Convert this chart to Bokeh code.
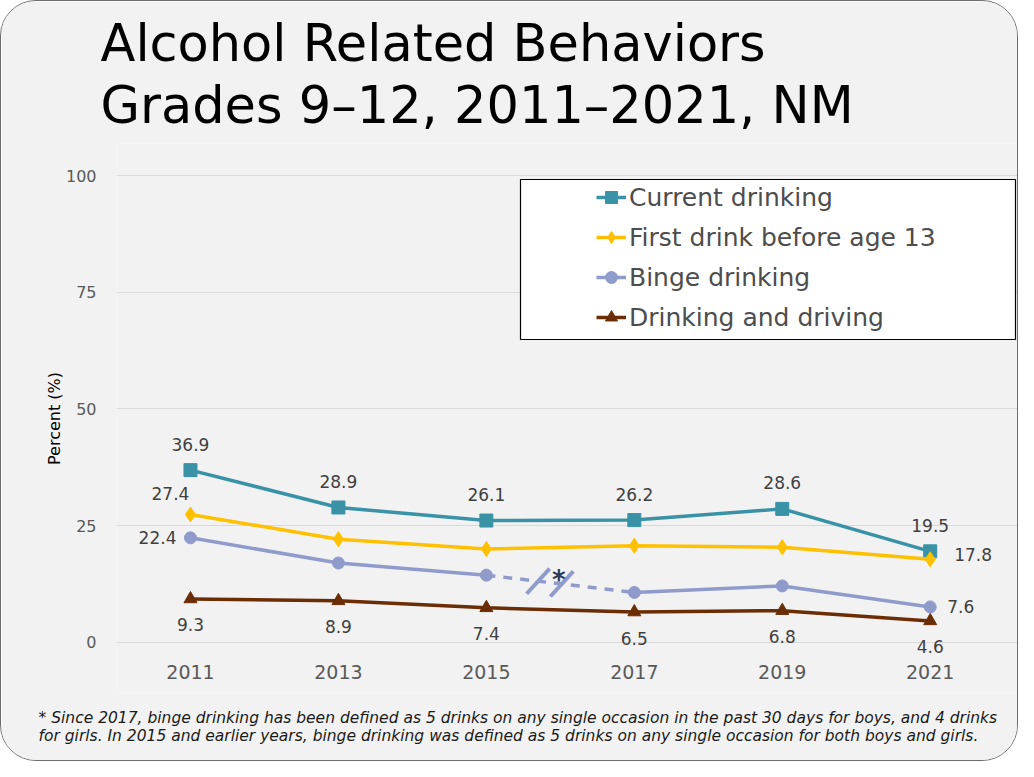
from bokeh.plotting import figure
from bokeh.models import (Range1d, FixedTicker, ColumnDataSource, LabelSet, Label,
                          Legend, LegendItem, BoxAnnotation, Title)
from bokeh.core.properties import value
from bokeh.embed import file_html
from bokeh.resources import INLINE

# ---------------- data ----------------
years = [2011, 2013, 2015, 2017, 2019, 2021]
current_drinking = [36.9, 28.9, 26.1, 26.2, 28.6, 19.5]
first_drink_before_13 = [27.4, 22.1, 20.0, 20.7, 20.4, 17.8]
binge_drinking = [22.4, 17.0, 14.4, 10.7, 12.1, 7.6]
drinking_and_driving = [9.3, 8.9, 7.4, 6.5, 6.8, 4.6]
y_ticks = [0, 25, 50, 75, 100]
series_names = ["Current drinking", "First drink before age 13",
                "Binge drinking", "Drinking and driving"]
title_lines = ["Alcohol Related Behaviors", "Grades 9–12, 2011–2021, NM"]
y_axis_label = "Percent (%)"
footnote_lines = [
    "* Since 2017, binge drinking has been defined as 5 drinks on any single occasion in the past 30 days for boys, and 4 drinks",
    "for girls. In 2015 and earlier years, binge drinking was defined as 5 drinks on any single occasion for both boys and girls.",
]

# ---------------- style ----------------
C_CUR = "#3a92a7"
C_FIRST = "#ffc000"
C_BINGE = "#8f9bcb"
C_DRIVE = "#6b2d05"
BG = "#f2f2f2"
FONT = "DejaVu Sans"
LABEL_COLOR = "#404040"
TICK_COLOR = "#595959"

W, H = 1018, 761
p = figure(width=W, height=H, output_backend="svg", toolbar_location=None,
           x_range=Range1d(2010, 2022.18), y_range=Range1d(-10.95, 106.87),
           min_border_left=115, min_border_right=2, min_border_top=142,
           min_border_bottom=69)
p.background_fill_color = BG
p.border_fill_color = BG
p.outline_line_color = None
p.styles = {"border": "1.5px solid #6e6e6e", "border-radius": "36px",
            "overflow": "hidden", "box-sizing": "border-box"}

# axes
p.xaxis.ticker = FixedTicker(ticks=years)
p.yaxis.ticker = FixedTicker(ticks=y_ticks)
for ax in (p.xaxis[0], p.yaxis[0]):
    ax.axis_line_color = None
    ax.major_tick_line_color = None
    ax.minor_tick_line_color = None
    ax.major_label_text_font = FONT
    ax.major_label_text_color = TICK_COLOR
p.xaxis.major_label_text_font_size = "19px"
p.xaxis.major_label_standoff = -35
p.yaxis.major_label_text_font_size = "16px"
p.yaxis.major_label_standoff = 14
p.yaxis.axis_label = y_axis_label
p.yaxis.axis_label_text_font = FONT
p.yaxis.axis_label_text_font_size = "16px"
p.yaxis.axis_label_text_font_style = "normal"
p.yaxis.axis_label_text_color = "#000000"
p.yaxis.axis_label_standoff = -1
p.xgrid.grid_line_color = None
p.ygrid.grid_line_color = "#d9d9d9"
p.ygrid.grid_line_width = 1.2

# series
LW = 3.5
r_cur_l = p.line(years, current_drinking, line_color=C_CUR, line_width=LW)
r_cur_m = p.scatter(years, current_drinking, marker="square", size=13, color=C_CUR)

r_fst_l = p.line(years, first_drink_before_13, line_color=C_FIRST, line_width=LW)
r_fst_m = p.scatter(years, first_drink_before_13, marker="diamond", size=15, color=C_FIRST)

r_bng_l = p.line(years[:3], binge_drinking[:3], line_color=C_BINGE, line_width=LW)
p.line(years[3:], binge_drinking[3:], line_color=C_BINGE, line_width=LW)
p.line(years[2:4], binge_drinking[2:4], line_color=C_BINGE, line_width=LW, line_dash="9 8")
r_bng_m = p.scatter(years, binge_drinking, marker="circle", size=12, color=C_BINGE)

r_drv_l = p.line(years, drinking_and_driving, line_color=C_DRIVE, line_width=LW)
r_drv_m = p.scatter(years, drinking_and_driving, marker="triangle", size=13, color=C_DRIVE)

# break marks on the dashed binge segment (definition change)
def along(frac):
    x0, x1 = years[2], years[3]
    y0, y1 = binge_drinking[2], binge_drinking[3]
    return x0 + frac * (x1 - x0), y0 + frac * (y1 - y0)

bx, by = zip(*[along(0.35), along(0.51)])
p.scatter(list(bx), list(by), marker="dash", size=34, angle=0.83,
          line_color=C_BINGE, line_width=4)
sx, sy = along(0.49)
p.add_layout(Label(x=sx, y=sy, text="*", text_font=FONT, text_font_size="26px",
                   text_font_style="bold", text_color="#2e3a5c", text_align="center",
                   text_baseline="middle", y_offset=4))

# data labels
def add_labels(xs, ys, align, dx, dy):
    src = ColumnDataSource(dict(x=xs, y=ys, t=[f"{v:.1f}" for v in ys]))
    p.add_layout(LabelSet(x="x", y="y", text="t", source=src, x_offset=dx, y_offset=dy,
                          text_align=align, text_baseline="middle",
                          text_font=value(FONT), text_font_size=value("17px"),
                          text_color=LABEL_COLOR))

add_labels(years, current_drinking, "center", 0, 26)
add_labels(years, drinking_and_driving, "center", 0, -26)
add_labels(years[:1], first_drink_before_13[:1], "center", -20, 21)
add_labels(years[-1:], first_drink_before_13[-1:], "left", 24, 5)
add_labels(years[:1], binge_drinking[:1], "right", -14, 0)
add_labels(years[-1:], binge_drinking[-1:], "left", 17, 0)

# legend box + legend (screen units from the frame's bottom-left)
p.add_layout(BoxAnnotation(left=404, right=899, top=514, bottom=354,
                           left_units="screen", right_units="screen",
                           top_units="screen", bottom_units="screen",
                           fill_color="white", fill_alpha=1, line_color="black",
                           line_width=1.2, line_alpha=1))
legend = Legend(items=[
    LegendItem(label=series_names[0], renderers=[r_cur_l, r_cur_m]),
    LegendItem(label=series_names[1], renderers=[r_fst_l, r_fst_m]),
    LegendItem(label=series_names[2], renderers=[r_bng_l, r_bng_m]),
    LegendItem(label=series_names[3], renderers=[r_drv_l, r_drv_m]),
], location=(480, 356), padding=0, spacing=0, glyph_width=30, glyph_height=40,
   label_height=40, label_standoff=3, background_fill_alpha=0,
   border_line_color=None, label_text_font=FONT, label_text_font_size="25px",
   label_text_color="#4d4d4d", margin=0)
p.add_layout(legend)

# title
p.add_layout(Title(text="\n".join(title_lines), align="left", offset=-16, standoff=16,
                   text_font=FONT, text_font_size="51px", text_font_style="normal",
                   text_line_height=1.065, text_color="#000000"), "above")

# footnote
p.add_layout(Title(text="\n".join(footnote_lines), align="left", offset=-78, standoff=31,
                   vertical_align="top",
                   text_font=FONT, text_font_size="15.5px", text_font_style="italic",
                   text_line_height=1.0, text_color="#1a1a1a"), "below")

open("out.html", "w").write(file_html(p, INLINE))
